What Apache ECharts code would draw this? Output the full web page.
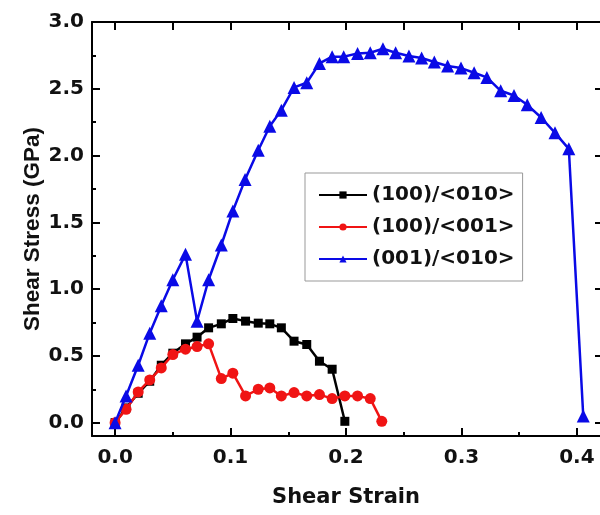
<!DOCTYPE html>
<html>
<head>
<meta charset="utf-8">
<script src="https://cdn.jsdelivr.net/npm/echarts@6/dist/echarts.min.js"></script>
<style>html,body{margin:0;padding:0;background:#fff}#c{width:600px;height:515px}</style>
</head>
<body>
<div id="c"></div>
<script>
// Data (x = shear strain, y = shear stress GPa)
const seriesNames = ['(100)/<010>', '(100)/<001>', '(001)/<010>'];
const strainBlack = [0,0.0095,0.020,0.030,0.040,0.050,0.061,0.071,0.081,0.092,0.102,0.113,0.124,0.134,0.144,0.155,0.166,0.177,0.188,0.199];
const stressBlack = [0,0.11,0.22,0.31,0.43,0.52,0.59,0.64,0.71,0.74,0.78,0.76,0.745,0.74,0.71,0.61,0.585,0.46,0.40,0.01];
const strainRed = [0,0.0095,0.020,0.030,0.040,0.050,0.061,0.071,0.081,0.092,0.102,0.113,0.124,0.134,0.144,0.155,0.166,0.177,0.188,0.199,0.210,0.221,0.231];
const stressRed = [0,0.10,0.23,0.32,0.41,0.51,0.55,0.57,0.59,0.33,0.37,0.20,0.25,0.26,0.20,0.225,0.20,0.21,0.18,0.20,0.20,0.18,0.01];
const strainBlue = [0,0.0095,0.020,0.030,0.040,0.050,0.061,0.071,0.081,0.092,0.102,0.1126,0.124,0.134,0.144,0.155,0.166,0.177,0.188,0.198,0.210,0.221,0.232,0.243,0.2545,0.2655,0.2765,0.288,0.2996,0.311,0.322,0.334,0.3455,0.357,0.369,0.381,0.393,0.4055];
const stressBlue = [0,0.20,0.43,0.67,0.875,1.07,1.26,0.76,1.07,1.33,1.585,1.82,2.04,2.22,2.34,2.51,2.545,2.69,2.74,2.74,2.765,2.77,2.80,2.77,2.745,2.73,2.70,2.67,2.655,2.62,2.585,2.485,2.45,2.38,2.285,2.17,2.05,0.05];
const xMajorTicks = [0, 0.1, 0.2, 0.3, 0.4];
const xMinorTicks = [0.05, 0.15, 0.25, 0.35];
const xTopTicks = [0, 0.05, 0.1, 0.15, 0.2, 0.25, 0.3, 0.35, 0.4];
const yMajorTicks = [0, 0.5, 1.0, 1.5, 2.0, 2.5, 3.0];
const yMinorTicks = [0.25, 0.75, 1.25, 1.75, 2.25, 2.75];

const zip = (xs, ys) => xs.map((x, i) => [x, ys[i]]);
const hFont = 'DejaVu Sans';
const vFont = 'Liberation Sans';

const chart = echarts.init(document.getElementById('c'), null, {renderer: 'canvas'});
const baseX = {type: 'value', min: -0.02, max: 0.42, splitLine: {show: false}, gridIndex: 0};
const baseY = {type: 'value', min: -0.1, max: 3.0, splitLine: {show: false}, gridIndex: 0};
chart.setOption({
  animation: false,
  backgroundColor: '#fff',
  grid: {left: 92, top: 22, width: 508, height: 414, containLabel: false},
  legend: {
    orient: 'vertical', left: 305, top: 173,
    padding: [10, 8, 10, 13],
    borderColor: '#999', borderWidth: 1,
    itemWidth: 48, itemHeight: 9, itemGap: 8,
    textStyle: {fontFamily: hFont, fontWeight: 'bold', fontSize: 20, color: '#111', lineHeight: 24},
    data: seriesNames
  },
  xAxis: [
    Object.assign({}, baseX, {
      position: 'bottom',
      name: 'Shear Strain', nameLocation: 'middle', nameGap: 51,
      nameTextStyle: {fontFamily: hFont, fontWeight: 'bold', fontSize: 21, color: '#111'},
      axisLine: {show: true, onZero: false, lineStyle: {color: '#000', width: 2}},
      axisTick: {show: true, inside: true, length: 8, customValues: xMajorTicks, lineStyle: {color: '#000', width: 2}},
      axisLabel: {show: true, customValues: xMajorTicks, margin: 12, formatter: v => v.toFixed(1),
        fontFamily: hFont, fontWeight: 'bold', fontSize: 20, color: '#111'}
    }),
    Object.assign({}, baseX, {
      position: 'bottom',
      axisLine: {show: false, onZero: false},
      axisTick: {show: true, inside: true, length: 4, customValues: xMinorTicks, lineStyle: {color: '#000', width: 2}},
      axisLabel: {show: false}
    }),
    Object.assign({}, baseX, {
      position: 'top',
      axisLine: {show: true, onZero: false, lineStyle: {color: '#000', width: 2}},
      axisTick: {show: true, inside: true, length: 8, customValues: xTopTicks, lineStyle: {color: '#000', width: 2}},
      axisLabel: {show: false}
    })
  ],
  yAxis: [
    Object.assign({}, baseY, {
      position: 'left',
      name: 'Shear Stress (GPa)', nameLocation: 'middle', nameGap: 48, nameRotate: 90, nameMoveOverlap: false,
      nameTextStyle: {fontFamily: vFont, fontWeight: 'bold', fontSize: 22.5, color: '#111'},
      axisLine: {show: true, onZero: false, lineStyle: {color: '#000', width: 2}},
      axisTick: {show: true, inside: true, length: 8, customValues: yMajorTicks, lineStyle: {color: '#000', width: 2}},
      axisLabel: {show: true, customValues: yMajorTicks, margin: 8, formatter: v => v.toFixed(1),
        fontFamily: hFont, fontWeight: 'bold', fontSize: 20, color: '#111'}
    }),
    Object.assign({}, baseY, {
      position: 'left',
      axisLine: {show: false, onZero: false},
      axisTick: {show: true, inside: true, length: 4, customValues: yMinorTicks, lineStyle: {color: '#000', width: 2}},
      axisLabel: {show: false}
    }),
    Object.assign({}, baseY, {
      position: 'right',
      axisLine: {show: false, onZero: false},
      axisTick: {show: true, inside: true, length: 5, customValues: yMajorTicks, lineStyle: {color: '#000', width: 2}},
      axisLabel: {show: false}
    })
  ],
  series: [
    {name: seriesNames[0], type: 'line', data: zip(strainBlack, stressBlack), symbol: 'rect', symbolSize: 9,
      lineStyle: {color: '#000', width: 2.5}, itemStyle: {color: '#000'}, z: 3},
    {name: seriesNames[1], type: 'line', data: zip(strainRed, stressRed), symbol: 'circle', symbolSize: 11,
      lineStyle: {color: '#f01414', width: 2.5}, itemStyle: {color: '#f01414'}, z: 4},
    {name: seriesNames[2], type: 'line', data: zip(strainBlue, stressBlue), symbol: 'triangle', symbolSize: 13,
      lineStyle: {color: '#0a0ae6', width: 2.5}, itemStyle: {color: '#0a0ae6'}, z: 5}
  ]
});
</script>
</body>
</html>
